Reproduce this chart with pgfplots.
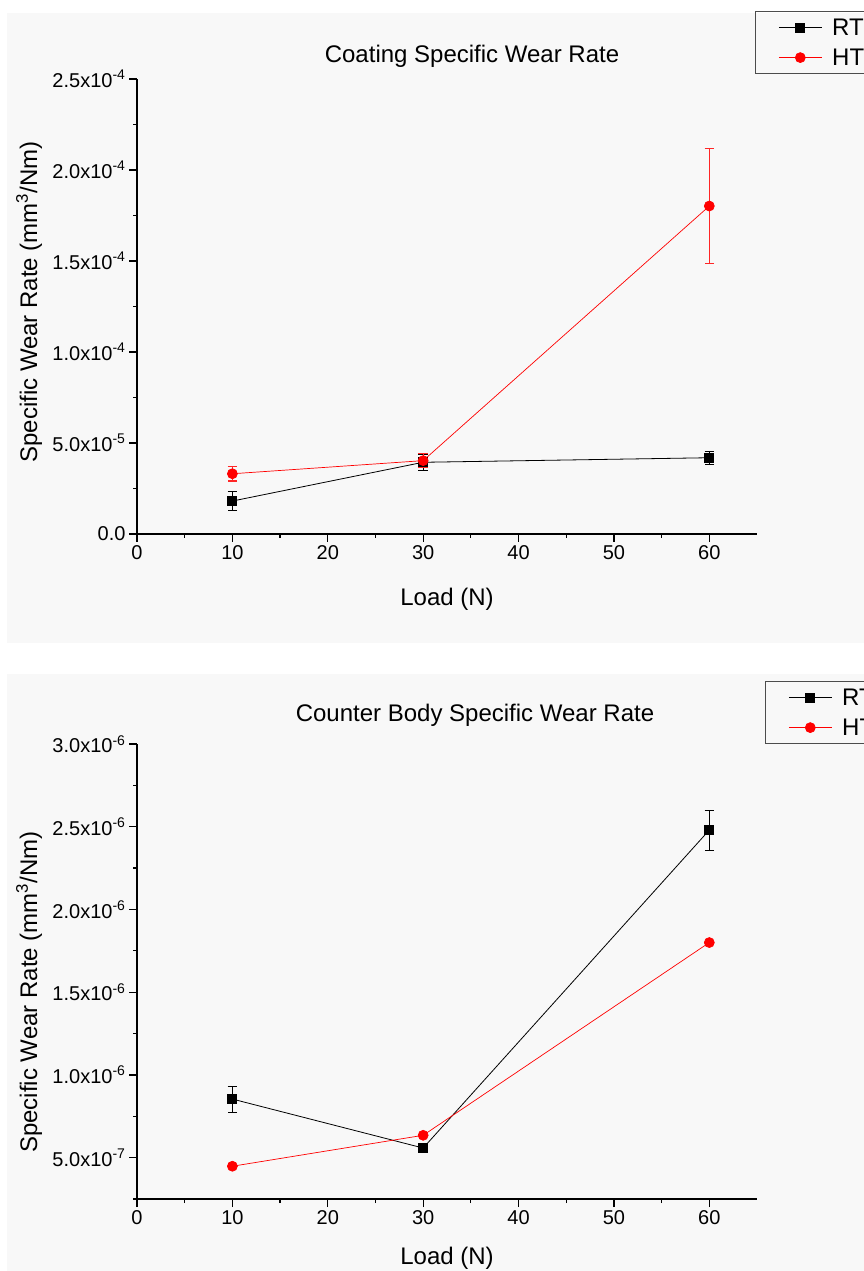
\documentclass[border=0pt]{standalone}
\usepackage{fontspec}
\setmainfont{Liberation Sans}
\usepackage{pgfplots}
\pgfplotsset{compat=1.18}
\definecolor{bg}{RGB}{248,248,248}
\definecolor{myred}{RGB}{255,0,0}

\pgfplotsset{
  mystyle/.style={
    scale only axis, width=620pt, height=455pt,
    axis x line*=bottom, axis y line*=left,
    axis line style={line width=1.4pt},
    xmin=0, xmax=65, xtick={0,10,...,60}, minor x tick num=1,
    tick align=outside, major tick length=8pt, minor tick length=4pt,
    every tick/.style={black, line width=1.2pt},
    tick label style={font=\fontsize{20}{23}\selectfont},
    /pgf/number format/assume math mode=true,
    scaled y ticks=false,
    label style={font=\fontsize{24}{28}\selectfont},
    xlabel={Load (N)},
    ylabel={Specific Wear Rate (mm\textsuperscript{3}/Nm)},
    legend style={draw=black!70, line width=0.8pt, fill=none,
      font=\fontsize{24}{28}\selectfont, anchor=north west,
      inner xsep=2pt, inner ysep=5pt, row sep=8pt},
    legend cell align=left,
    legend image code/.code={\path (0pt,0pt) (72pt,0pt);
      \draw[mark repeat=2,mark phase=2,##1] plot coordinates {(21pt,0pt) (42.5pt,0pt) (64pt,0pt)};},
    clip=false,
  },
  rtstyle/.style={black, line width=0.8pt, mark=square*, mark size=4.5pt,
    error bars/y dir=both, error bars/y explicit,
    error bars/error bar style={black, line width=0.8pt},
    error bars/error mark options={black, rotate=90, mark size=4.8pt, line width=0.8pt}},
  htstyle/.style={myred, line width=0.7pt, mark=*, mark size=5pt,
    error bars/y dir=both, error bars/y explicit,
    error bars/error bar style={color=myred!85, line width=1.3pt},
    error bars/error mark options={color=myred!85, rotate=90, mark size=4.8pt, line width=1.3pt}},
}

\begin{document}
\begin{tikzpicture}
\useasboundingbox (0,0) rectangle (864pt,1271pt);
\fill[bg] (7pt,628pt) rectangle (864pt,1258pt);
\fill[bg] (7pt,0pt) rectangle (864pt,597pt);

% ---------- top panel ----------
\begin{axis}[mystyle,
  at={(137pt,737pt)}, anchor=south west,
  ymin=0, ymax=2.5e-4,
  ytick={0,5e-5,1e-4,1.5e-4,2e-4,2.5e-4},
  yticklabels={0.0, 5.0x10\textsuperscript{-5}, 1.0x10\textsuperscript{-4}, 1.5x10\textsuperscript{-4}, 2.0x10\textsuperscript{-4}, 2.5x10\textsuperscript{-4}},
  minor ytick={2.5e-5,7.5e-5,1.25e-4,1.75e-4,2.25e-4},
  xlabel style={at={(axis description cs:0.5,-0.143)}, anchor=center},
  ylabel style={at={(axis description cs:-0.174,0.51)}, anchor=center},
  legend style={at={(axis description cs:0.9968,1.149)}},
]
\addplot[rtstyle] table[x=x, y=y, y error=e] {
x y e
10 1.81e-5 0.53e-5
30 3.94e-5 0.42e-5
60 4.19e-5 0.37e-5
};
\addlegendentry{RT}
\addplot[htstyle] table[x=x, y=y, y error=e] {
x y e
10 3.31e-5 0.40e-5
30 4.03e-5 0.38e-5
60 1.802e-4 0.316e-4
};
\addlegendentry{HT}
\end{axis}
\node[font=\fontsize{24}{28}\selectfont] at (472pt,1215pt) {Coating Specific Wear Rate};

% ---------- bottom panel ----------
\begin{axis}[mystyle,
  at={(137pt,72pt)}, anchor=south west,
  ymin=2.5e-7, ymax=3.0e-6,
  ytick={5e-7,1e-6,1.5e-6,2e-6,2.5e-6,3e-6},
  yticklabels={5.0x10\textsuperscript{-7}, 1.0x10\textsuperscript{-6}, 1.5x10\textsuperscript{-6}, 2.0x10\textsuperscript{-6}, 2.5x10\textsuperscript{-6}, 3.0x10\textsuperscript{-6}},
  minor ytick={2.5e-7,7.5e-7,1.25e-6,1.75e-6,2.25e-6,2.75e-6},
  xlabel style={at={(axis description cs:0.5,-0.13)}, anchor=center},
  ylabel style={at={(axis description cs:-0.174,0.455)}, anchor=center},
  legend style={at={(axis description cs:1.0129,1.138)}},
]
\addplot[rtstyle] table[x=x, y=y, y error=e] {
x y e
10 8.54e-7 0.79e-7
30 5.58e-7 0.15e-7
60 2.48e-6 1.21e-7
};
\addlegendentry{RT}
\addplot[htstyle] table[x=x, y=y, y error=e] {
x y e
10 4.48e-7 0
30 6.35e-7 0
60 1.80e-6 0
};
\addlegendentry{HT}
\end{axis}
\node[font=\fontsize{24}{28}\selectfont] at (475pt,556pt) {Counter Body Specific Wear Rate};
\end{tikzpicture}
\end{document}
